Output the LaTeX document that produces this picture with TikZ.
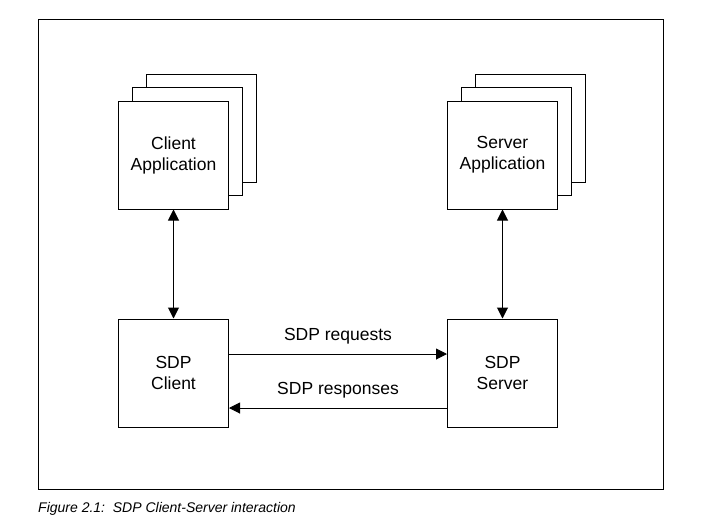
\documentclass[tikz,border=0pt]{standalone}
\usepackage{fontspec}
\setmainfont{Liberation Sans}
\usetikzlibrary{arrows.meta,positioning}

\begin{document}
\begin{tikzpicture}[x=1pt,y=-1pt,>={Triangle[length=11pt,width=11pt]},node distance=109pt and 218pt,
  box/.style={draw,line width=1pt,fill=white,minimum width=110pt,minimum height=108pt,align=center,font=\fontsize{17.5}{21}\selectfont}]
  \useasboundingbox (0,0) rectangle (705,520);
  \node[draw,line width=1pt,minimum width=625pt,minimum height=470pt,inner sep=0pt] (frame) at (351,254.5) {};
  % application stacks
  \node[box,xshift=28pt,yshift=27pt] (capp3) at (173.5,155) {};
  \node[box,xshift=14pt,yshift=13.5pt] (capp2) at (173.5,155) {};
  \node[box] (capp) at (173.5,155) {Client\\Application};
  \node[box,below=of capp] (cl) {SDP\\Client};
  \node[box,right=of cl] (sv) {SDP\\Server};
  \node[box,xshift=28pt,yshift=27pt] (sapp3) at (sv.center |- capp.center) {};
  \node[box,xshift=14pt,yshift=13.5pt] (sapp2) at (sv.center |- capp.center) {};
  \node[box] (sapp) at (sv.center |- capp.center) {Server\\Application};
  \draw[<->,line width=1pt] (capp) -- (cl);
  \draw[<->,line width=1pt] (sapp) -- (sv);
  \draw[->,line width=1pt] ([yshift=19pt]cl.east) -- node[above=6pt,font=\fontsize{17.5}{21}\selectfont] (req) {SDP requests} ([yshift=19pt]sv.west);
  \draw[->,line width=1pt] ([yshift=-35pt]sv.west) -- node[above=6pt,font=\fontsize{17.5}{21}\selectfont] (resp) {SDP responses} ([yshift=-35pt]cl.west -| cl.east);
  \node[anchor=base west,inner sep=0pt,font=\fontsize{14}{16}\selectfont\itshape] (cap) at (38,512) {Figure 2.1:\ \ SDP Client-Server interaction};
\end{tikzpicture}
\end{document}
